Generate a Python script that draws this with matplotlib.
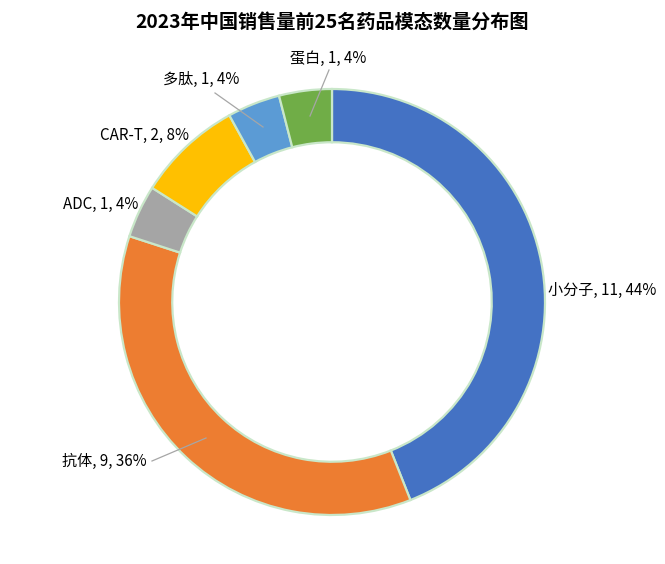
import matplotlib
matplotlib.use("Agg")
import matplotlib.pyplot as plt

plt.rcParams["font.family"] = ["Noto Sans CJK SC", "DejaVu Sans"]

TITLE = "2023年中国销售量前25名药品模态数量分布图"
categories = ["小分子", "抗体", "ADC", "CAR-T", "多肽", "蛋白"]
counts = [11, 9, 1, 2, 1, 1]
colors = ["#4472C4", "#ED7D31", "#A5A5A5", "#FFC000", "#5B9BD5", "#70AD47"]

W, H = 665, 564
CX, CY = 332, H - 302
R = 213


def main():
    fig = plt.figure(figsize=(W / 100, H / 100), dpi=100)
    ax = fig.add_axes([0, 0, 1, 1])
    ax.pie(
        counts,
        colors=colors,
        startangle=90,
        counterclock=False,
        center=(CX, CY),
        radius=R,
        wedgeprops=dict(width=R * 0.25, edgecolor="#C9E7C9", linewidth=1.6),
    )
    ax.set_xlim(0, W)
    ax.set_ylim(0, H)
    ax.set_aspect("equal")
    ax.axis("off")

    total = sum(counts)
    labels = [f"{c}, {n}, {round(n / total * 100)}%" for c, n in zip(categories, counts)]

    # label positions in pixels (x, y from top), alignment, optional leader line
    spots = [
        (548, 290, "left", None),
        (147, 461, "right", ((152, 461), (206, 438))),
        (138, 204, "right", None),
        (189, 135, "right", None),
        (201, 79, "center", ((215, 93), (263, 127))),
        (328, 58, "center", ((329, 70), (310, 116))),
    ]
    for text, (x, y, ha, line) in zip(labels, spots):
        ax.text(x, H - y, text, ha=ha, va="center", fontsize=10.9, color="#000000")
        if line:
            (x0, y0), (x1, y1) = line
            ax.plot([x0, x1], [H - y0, H - y1], color="#A6A6A6", lw=0.9)

    fig.text(332 / W, 1 - 22 / H, TITLE, ha="center", va="center",
             fontsize=13.8, fontweight="bold")
    fig.savefig("out.png", dpi=100, facecolor="white")


if __name__ == "__main__":
    main()
